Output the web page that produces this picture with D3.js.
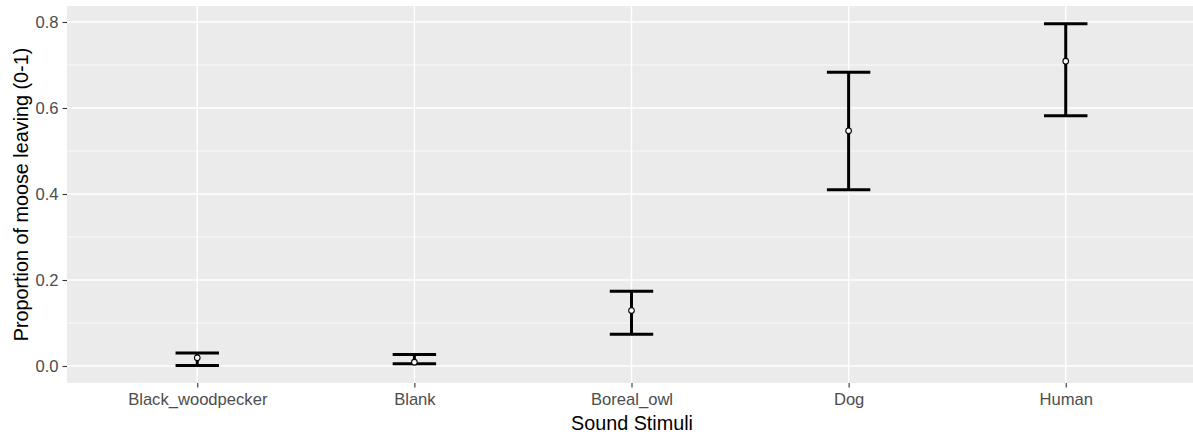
<!DOCTYPE html>
<html>
<head>
<meta charset="utf-8">
<script src="https://cdn.jsdelivr.net/npm/d3@7"></script>
<style>
  html, body { margin: 0; padding: 0; background: #fff; }
  svg { display: block; font-family: "Liberation Sans", Arial, sans-serif; }
</style>
</head>
<body>
<svg id="chart" width="1193" height="436"></svg>
<script>
// Proportion of moose leaving per sound stimulus, with confidence limits
const categories = ["Black_woodpecker", "Blank", "Boreal_owl", "Dog", "Human"];
const meanValues = [0.019, 0.009, 0.129, 0.547, 0.709];
const lowerValues = [0.001, 0.005, 0.074, 0.410, 0.582];
const upperValues = [0.030, 0.027, 0.174, 0.683, 0.796];
const yTicks = [0.0, 0.2, 0.4, 0.6, 0.8];
const yMinor = [0.1, 0.3, 0.5, 0.7];
const xTitle = "Sound Stimuli";
const yTitle = "Proportion of moose leaving (0-1)";

const rows = categories.map((c, i) => ({
  cat: c, mean: meanValues[i], lo: lowerValues[i], hi: upperValues[i]
}));

const svg = d3.select("#chart");
const panel = { left: 67, top: 6, right: 1196, bottom: 383 };

// Discrete x scale with ggplot-style 0.6 expansion on both sides
const x = d3.scalePoint()
  .domain(categories)
  .range([panel.left, panel.right])
  .padding(0.6);
const step = x.step();

const y = d3.scaleLinear()
  .domain([-0.0395, 0.8372])
  .range([panel.bottom, panel.top]);

// Panel background
svg.append("rect")
  .attr("x", panel.left).attr("y", panel.top)
  .attr("width", panel.right - panel.left)
  .attr("height", panel.bottom - panel.top)
  .attr("fill", "#EBEBEB");

const grid = svg.append("g");
grid.selectAll("line.minor").data(yMinor).join("line")
  .attr("class", "minor")
  .attr("x1", panel.left).attr("x2", panel.right)
  .attr("y1", d => y(d)).attr("y2", d => y(d))
  .attr("stroke", "#fff").attr("stroke-width", 0.7);
grid.selectAll("line.majory").data(yTicks).join("line")
  .attr("class", "majory")
  .attr("x1", panel.left).attr("x2", panel.right)
  .attr("y1", d => y(d)).attr("y2", d => y(d))
  .attr("stroke", "#fff").attr("stroke-width", 1.4);
grid.selectAll("line.majorx").data(categories).join("line")
  .attr("class", "majorx")
  .attr("x1", d => x(d)).attr("x2", d => x(d))
  .attr("y1", panel.top).attr("y2", panel.bottom)
  .attr("stroke", "#fff").attr("stroke-width", 1.4);

// Axes
const yAxis = svg.append("g")
  .attr("transform", `translate(${panel.left},0)`)
  .call(d3.axisLeft(y).tickValues(yTicks).tickFormat(d3.format(".1f")).tickSize(4.5).tickPadding(4));
const xAxis = svg.append("g")
  .attr("transform", `translate(0,${panel.bottom})`)
  .call(d3.axisBottom(x).tickSize(4.5).tickPadding(4));
[yAxis, xAxis].forEach(a => {
  a.select(".domain").remove();
  a.selectAll(".tick line").attr("stroke", "#333333").attr("stroke-width", 1.1);
  a.selectAll(".tick text")
    .attr("fill", "#4D4D4D")
    .style("font-size", "16.6px")
    .style("font-family", "'Liberation Sans', Arial, sans-serif");
});
xAxis.selectAll(".tick text").attr("dy", "0.83em");

// Error bars
const capHalf = step * 0.1;
const bars = svg.append("g").attr("stroke", "#000").attr("stroke-width", 3).attr("fill", "none");
bars.selectAll("line.stem").data(rows).join("line")
  .attr("class", "stem")
  .attr("x1", d => x(d.cat)).attr("x2", d => x(d.cat))
  .attr("y1", d => y(d.lo)).attr("y2", d => y(d.hi));
bars.selectAll("line.top").data(rows).join("line")
  .attr("class", "top")
  .attr("x1", d => x(d.cat) - capHalf).attr("x2", d => x(d.cat) + capHalf)
  .attr("y1", d => y(d.hi)).attr("y2", d => y(d.hi));
bars.selectAll("line.bottom").data(rows).join("line")
  .attr("class", "bottom")
  .attr("x1", d => x(d.cat) - capHalf).attr("x2", d => x(d.cat) + capHalf)
  .attr("y1", d => y(d.lo)).attr("y2", d => y(d.lo));

// Mean points
svg.append("g").selectAll("circle").data(rows).join("circle")
  .attr("cx", d => x(d.cat)).attr("cy", d => y(d.mean))
  .attr("r", 2.8)
  .attr("fill", "#fff").attr("stroke", "#000").attr("stroke-width", 1.1);

// Axis titles
svg.append("text")
  .attr("x", 632)
  .attr("y", 430)
  .attr("text-anchor", "middle")
  .style("font-size", "19.8px")
  .attr("fill", "#000")
  .text(xTitle);
svg.append("text")
  .attr("transform", `translate(28,${(panel.top + panel.bottom) / 2}) rotate(-90)`)
  .attr("text-anchor", "middle")
  .style("font-size", "19.8px")
  .attr("fill", "#000")
  .text(yTitle);
</script>
</body>
</html>
